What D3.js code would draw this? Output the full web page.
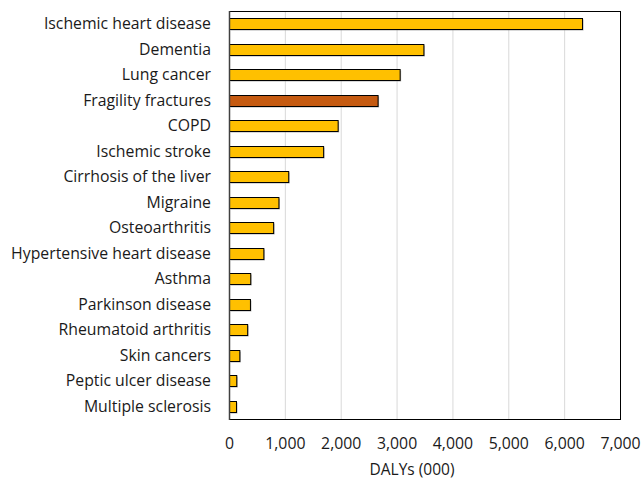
<!DOCTYPE html>
<meta charset="utf-8">
<style>
  body { margin: 0; background: #fff; }
  text { font-family: "Open Sans", "Noto Sans", sans-serif; fill: #1a1a1a; }
</style>
<svg width="641" height="481"></svg>
<script src="https://d3js.org/d3.v7.min.js"></script>
<script>
var causes = [
  "Ischemic heart disease", "Dementia", "Lung cancer", "Fragility fractures",
  "COPD", "Ischemic stroke", "Cirrhosis of the liver", "Migraine",
  "Osteoarthritis", "Hypertensive heart disease", "Asthma", "Parkinson disease",
  "Rheumatoid arthritis", "Skin cancers", "Peptic ulcer disease", "Multiple sclerosis"
]
var dalys = [6320, 3480, 3055, 2660, 1945, 1685, 1060, 885, 790, 615, 380, 375, 325, 185, 130, 125]
var highlight = ["Fragility fractures"]
var xTicks = [0, 1000, 2000, 3000, 4000, 5000, 6000, 7000]

var data = causes.map(function (c, i) { return { name: c, value: dalys[i] } })

var margin = { top: 11, right: 21, bottom: 62, left: 229 }
var width = 641, height = 481
var svg = d3.select('svg')

var x = d3.scaleLinear().domain([0, 7000]).range([margin.left, width - margin.right])
var y = d3.scaleBand().domain(causes).range([margin.top, height - margin.bottom]).paddingInner(0.57).paddingOuter(0.285)

// gridlines
svg.append('g').selectAll('line')
  .data(xTicks.slice(1, -1))
  .enter().append('line')
  .attr('x1', function (d) { return x(d) + 0.5 })
  .attr('x2', function (d) { return x(d) + 0.5 })
  .attr('y1', margin.top)
  .attr('y2', height - margin.bottom)
  .attr('stroke', '#d9d9d9')
  .attr('stroke-width', 1)

// bar shadows
svg.append('g').selectAll('rect')
  .data(data)
  .enter().append('rect')
  .attr('x', x(0) + 1.5)
  .attr('y', function (d) { return Math.round(y(d.name)) + 1.5 })
  .attr('width', function (d) { return x(d.value) - x(0) })
  .attr('height', Math.round(y.bandwidth()))
  .attr('fill', '#7f7f7f')
  .attr('opacity', 0.6)

// bars
svg.append('g').selectAll('rect')
  .data(data)
  .enter().append('rect')
  .attr('x', x(0) + 0.5)
  .attr('y', function (d) { return Math.round(y(d.name)) + 0.5 })
  .attr('width', function (d) { return x(d.value) - x(0) })
  .attr('height', Math.round(y.bandwidth()))
  .attr('fill', function (d) { return highlight.indexOf(d.name) > -1 ? '#C55A11' : '#FFC000' })
  .attr('stroke', '#000')
  .attr('stroke-width', 1)

// frame
svg.append('rect')
  .attr('x', margin.left + 0.5)
  .attr('y', margin.top + 0.5)
  .attr('width', width - margin.right - margin.left)
  .attr('height', height - margin.bottom - margin.top)
  .attr('fill', 'none')
  .attr('stroke', '#000')
  .attr('stroke-width', 1)
svg.append('line')
  .attr('x1', margin.left + 0.5).attr('x2', margin.left + 0.5)
  .attr('y1', margin.top).attr('y2', height - margin.bottom + 1)
  .attr('stroke', '#404040').attr('stroke-width', 1.5)

// category labels
svg.append('g').selectAll('text')
  .data(causes)
  .enter().append('text')
  .attr('x', 211)
  .attr('y', function (d) { return y(d) + y.bandwidth() / 2 })
  .attr('dy', '0.35em')
  .attr('text-anchor', 'end')
  .attr('font-size', 15.8)
  .text(function (d) { return d })

// x axis tick labels
var xAxis = d3.axisBottom(x).tickValues(xTicks).tickFormat(d3.format(',')).tickSize(0).tickPadding(0)
var gx = svg.append('g')
  .attr('transform', 'translate(0,' + (height - margin.bottom) + ')')
  .call(xAxis)
gx.select('.domain').remove()
gx.selectAll('text')
  .attr('y', 24)
  .attr('dy', '0.35em')
  .attr('font-size', 15.8)
  .style('font-family', '"Open Sans", "Noto Sans", sans-serif')
  .attr('fill', '#1a1a1a')

svg.append('text')
  .attr('x', 412)
  .attr('y', 470)
  .attr('dy', '0.35em')
  .attr('text-anchor', 'middle')
  .attr('font-size', 15.5)
  .text('DALYs (000)')
</script>
